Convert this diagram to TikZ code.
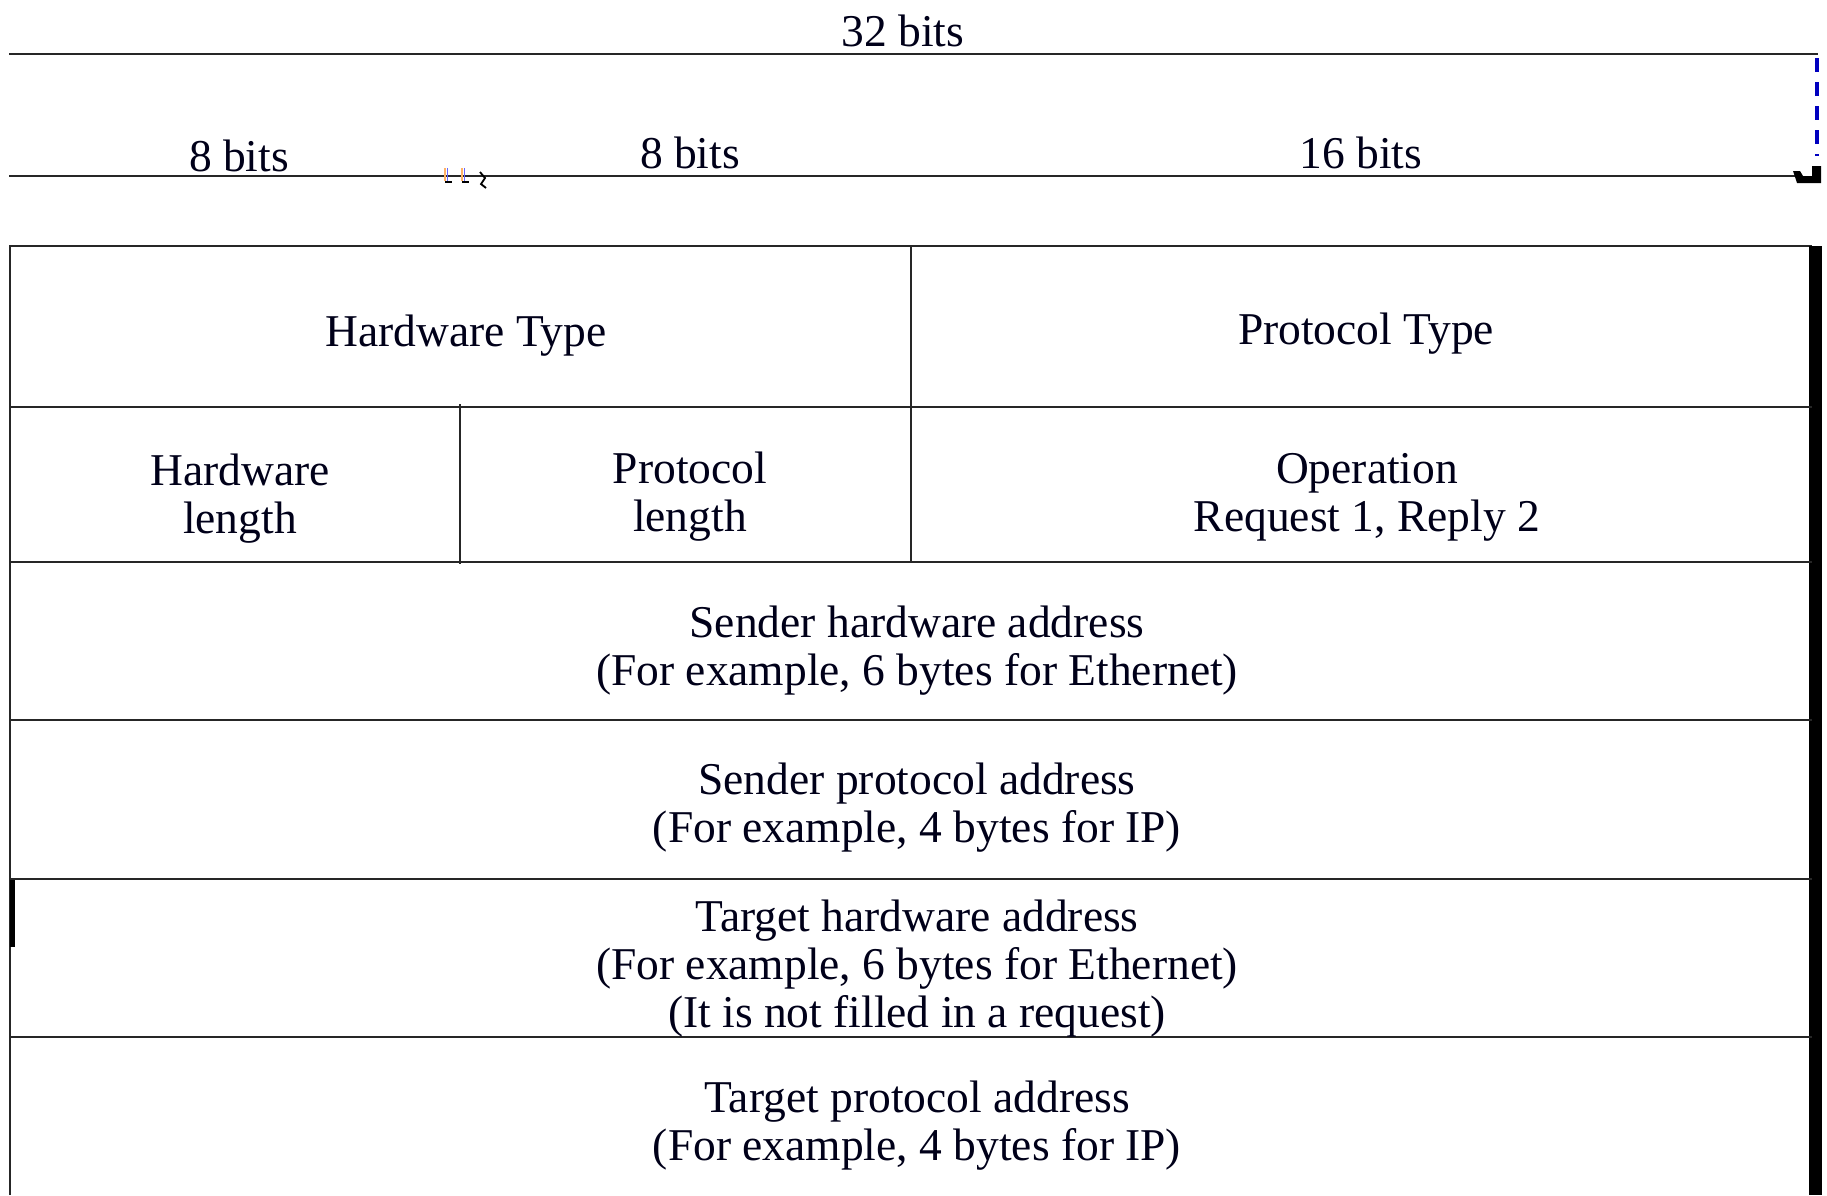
\documentclass[tikz,border=0pt]{standalone}
\usepackage{fontspec}
\setmainfont{Liberation Serif}
\begin{document}
\begin{tikzpicture}[x=1pt,y=-1pt,line cap=butt,
  rule/.style={line width=2pt,black!85},
  cell/.style={line width=2pt,black!85},
  lbl/.style={font=\fontsize{45.5}{48}\selectfont,align=center,inner sep=0pt,text=black!90!blue}]
\useasboundingbox (0,0) rectangle (1827,1195);
% bit rulers
\draw[rule] (9,54) -- (1818,54);
\draw[rule] (9,176) -- (1795,176);
\fill[black] (1793,171) -- (1800,171) -- (1803,176) -- (1812,176) -- (1812,166) -- (1821,166) -- (1821,183) -- (1797,183) -- cycle;
\draw[line width=3.5pt,blue!75!black,dash pattern=on 14pt off 10pt] (1817,58) -- (1817,156);
\draw[line width=1.8pt,orange!60] (445,168) -- (445,181);
\draw[line width=1.8pt,blue!60] (447.5,168) -- (447.5,181);
\draw[line width=1.8pt,black] (445,182) -- (452,182);
\draw[line width=1.8pt,orange!60] (462,168) -- (462,181);
\draw[line width=1.8pt,blue!60] (464.5,168) -- (464.5,181);
\draw[line width=1.8pt,black] (462,182) -- (469,182);
\draw[line width=1.8pt,black] (480,172) -- (485,178) -- (481,184) -- (486,188);
\node[lbl] (b32) at (903,31) {32 bits};
\node[lbl] (b8a) at (239,156) {8 bits};
\node[lbl] (b8b) at (690,153) {8 bits};
\node[lbl] (b16) at (1361,153) {16 bits};
% table
\draw[cell] (10,1195) -- (10,246) -- (1812,246);
\fill[black] (1809,246) rectangle (1822,1195);
\draw[line width=5pt,black] (12,878) -- (12,947);
\draw[cell] (10,407) -- (1812,407);
\draw[cell] (10,562) -- (1812,562);
\draw[cell] (10,720) -- (1812,720);
\draw[cell] (10,879) -- (1812,879);
\draw[cell] (10,1037) -- (1812,1037);
\draw[cell] (911,246) -- (911,562);
\draw[cell] (460,404) -- (460,564);
\node[lbl] (hwtype) at (466,336) {Hardware Type};
\node[lbl] (prtype) at (1366,334) {Protocol Type};
\node[lbl] (hwlen) at (240,499) {Hardware\\length};
\node[lbl] (prlen) at (690,497) {Protocol\\length};
\node[lbl] (oper) at (1367,497) {Operation\\Request 1, Reply 2};
\node[lbl] (sha) at (917,651) {Sender hardware address\\(For example, 6 bytes for Ethernet)};
\node[lbl] (spa) at (917,808) {Sender protocol address\\(For example, 4 bytes for IP)};
\node[lbl] (tha) at (917,969) {Target hardware address\\(For example, 6 bytes for Ethernet)\\(It is not filled in a request)};
\node[lbl] (tpa) at (917,1126) {Target protocol address\\(For example, 4 bytes for IP)};
\end{tikzpicture}
\end{document}
